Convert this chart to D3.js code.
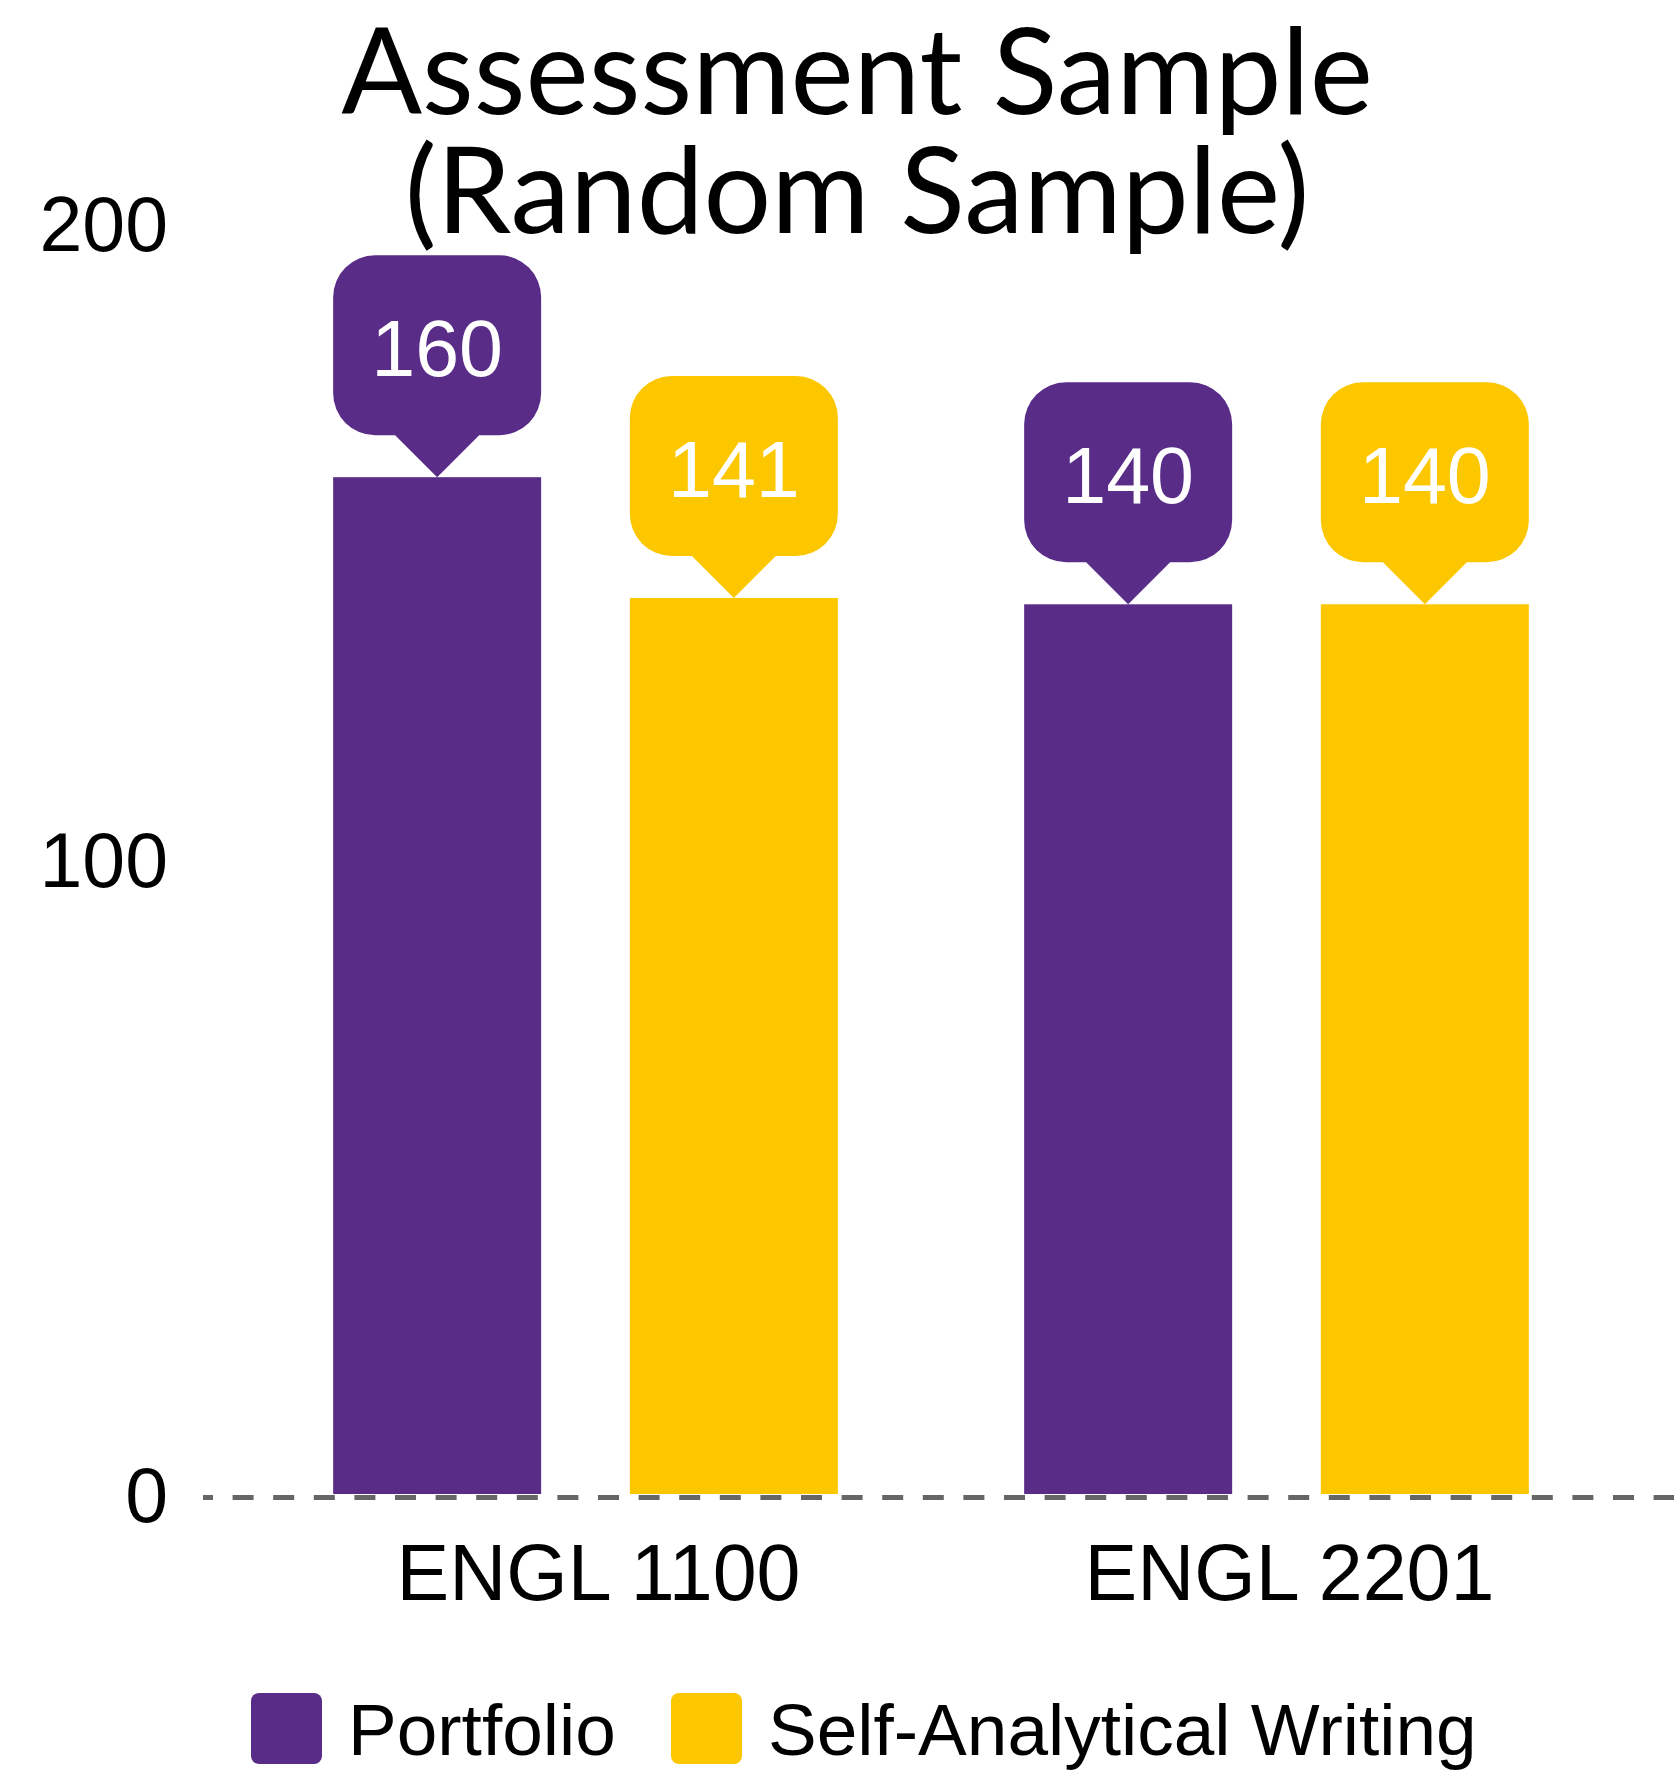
<!DOCTYPE html>
<html>
<head>
<meta charset="utf-8">
<script src="https://cdn.jsdelivr.net/npm/d3@7"></script>
<style>
  html, body { margin: 0; padding: 0; background: #fff; }
  svg { display: block; }
</style>
</head>
<body>
<svg id="chart" width="1674" height="1772"></svg>
<script>
const categories = ["ENGL 1100", "ENGL 2201"];
const seriesNames = ["Portfolio", "Self-Analytical Writing"];
const portfolioValues = [160, 140];
const selfAnalyticalValues = [141, 140];
const yTickValues = [0, 100, 200];
const titleLines = ["Assessment Sample", "(Random Sample)"];
const colors = ["#592c88", "#fdc700"];

const seriesValues = [portfolioValues, selfAnalyticalValues];
const data = categories.map((c, i) => ({
  category: c,
  values: seriesNames.map((s, j) => ({ series: s, value: seriesValues[j][i], color: colors[j] }))
}));

const W = 1674, H = 1772;
const svg = d3.select("#chart");

const y = d3.scaleLinear().domain([0, 200]).range([1494, 223]);
const x0 = d3.scaleBand().domain(categories).range([240, 1622]).paddingInner(0.2696).paddingOuter(0.1348);
const x1 = d3.scaleBand().domain(seriesNames).range([0, x0.bandwidth()]).paddingInner(0.299).paddingOuter(0);

// Title
const title = svg.append("text")
  .attr("text-anchor", "middle")
  .attr("font-family", "Lato, sans-serif")
  .attr("font-size", 119.5)
  .attr("fill", "#000");
title.selectAll("tspan").data(titleLines).join("tspan")
  .attr("x", 857)
  .attr("y", (d, i) => 114 + i * 119)
  .text(d => d);

// Y axis
const yAxis = d3.axisLeft(y).tickValues(yTickValues).tickSize(0).tickPadding(35).tickFormat(d3.format("d"));
const gy = svg.append("g").attr("transform", "translate(203,0)").call(yAxis);
gy.select(".domain").remove();
gy.selectAll("text")
  .attr("font-family", "'Liberation Sans', Arial, sans-serif")
  .attr("font-size", 77)
  .attr("fill", "#000")
  .attr("dy", "0.36em");

// Bars
const groups = svg.append("g").selectAll("g").data(data).join("g")
  .attr("transform", d => `translate(${x0(d.category)},0)`);

groups.selectAll("rect").data(d => d.values).join("rect")
  .attr("x", d => x1(d.series))
  .attr("y", d => y(d.value))
  .attr("width", x1.bandwidth())
  .attr("height", d => y(0) - y(d.value))
  .attr("fill", d => d.color);

// Baseline dashed
svg.append("line")
  .attr("x1", 203).attr("x2", W)
  .attr("y1", y(0) + 3.5).attr("y2", y(0) + 3.5)
  .attr("stroke", "#666")
  .attr("stroke-width", 5)
  .attr("stroke-dasharray", "21,19.6")
  .attr("stroke-dashoffset", 11);

// Callout bubbles
const bw = x1.bandwidth();
const bubbleH = 180, pointerH = 42, pointerHalf = 42, r = 42;
function bubblePath(cx, tipY) {
  const bottom = tipY - pointerH;
  const top = bottom - bubbleH;
  const left = cx - bw / 2, right = cx + bw / 2;
  const p = d3.path();
  p.moveTo(left + r, top);
  p.lineTo(right - r, top);
  p.arcTo(right, top, right, top + r, r);
  p.lineTo(right, bottom - r);
  p.arcTo(right, bottom, right - r, bottom, r);
  p.lineTo(cx + pointerHalf, bottom);
  p.lineTo(cx, tipY);
  p.lineTo(cx - pointerHalf, bottom);
  p.lineTo(left + r, bottom);
  p.arcTo(left, bottom, left, bottom - r, r);
  p.lineTo(left, top + r);
  p.arcTo(left, top, left + r, top, r);
  p.closePath();
  return p.toString();
}

const callouts = groups.selectAll("g.callout").data(d => d.values).join("g").attr("class", "callout");
callouts.append("path")
  .attr("d", d => bubblePath(x1(d.series) + bw / 2, y(d.value)))
  .attr("fill", d => d.color);
callouts.append("text")
  .attr("x", d => x1(d.series) + bw / 2)
  .attr("y", d => y(d.value) - pointerH - bubbleH + 121)
  .attr("text-anchor", "middle")
  .attr("font-family", "'Liberation Sans', Arial, sans-serif")
  .attr("font-size", 79)
  .attr("fill", "#fff")
  .text(d => d.value);

// X axis labels
const xAxis = d3.axisBottom(x0).tickSize(0).tickPadding(0);
const gx = svg.append("g").attr("transform", `translate(13,${y(0)})`).call(xAxis);
gx.select(".domain").remove();
gx.selectAll("text")
  .attr("font-family", "'Liberation Sans', Arial, sans-serif")
  .attr("font-size", 79)
  .attr("fill", "#000")
  .attr("dy", 0)
  .attr("y", 106);

// Legend
const legendX = [251, 671];
const legend = svg.append("g").selectAll("g").data(seriesNames).join("g")
  .attr("transform", (d, i) => `translate(${legendX[i]},1693)`);
legend.append("rect")
  .attr("width", 71).attr("height", 71)
  .attr("rx", 8).attr("ry", 8)
  .attr("fill", (d, i) => colors[i]);
legend.append("text")
  .attr("x", 97).attr("y", 62)
  .attr("font-family", "'Liberation Sans', Arial, sans-serif")
  .attr("font-size", 73)
  .attr("fill", "#000")
  .text(d => d);
</script>
</body>
</html>
